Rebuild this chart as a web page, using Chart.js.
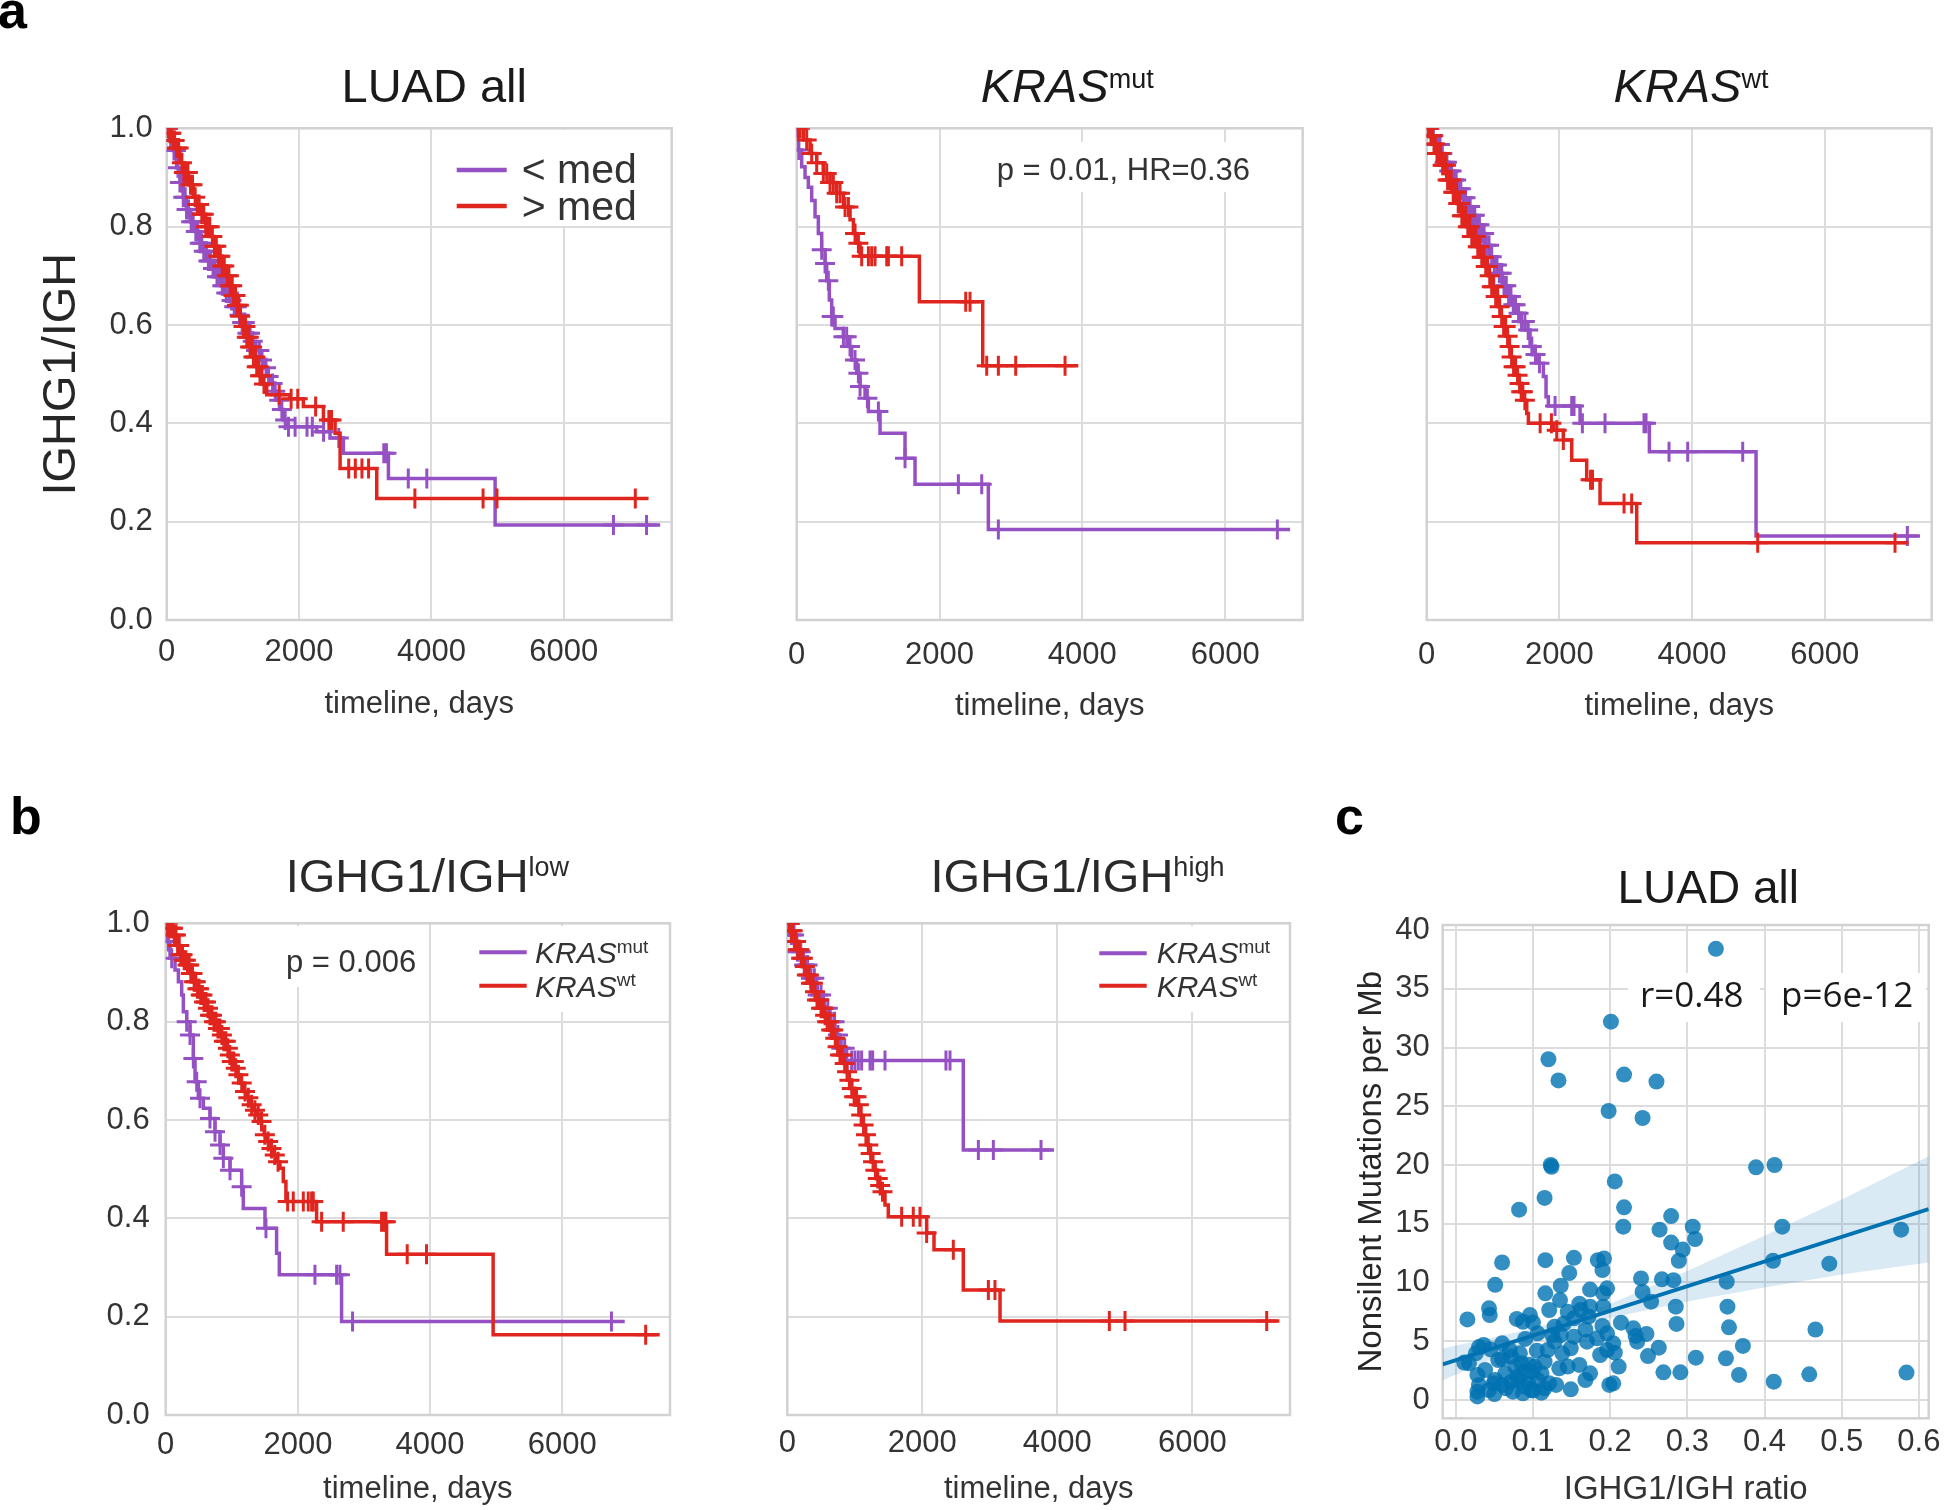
<!DOCTYPE html>
<html><head><meta charset="utf-8">
<script src="https://cdn.jsdelivr.net/npm/chart.js@4.4.1/dist/chart.umd.min.js"></script>
<style>
html,body{margin:0;padding:0;background:#fff;}
#wrap{position:relative;width:1946px;height:1510px;background:#fff;overflow:hidden;}
#wrap canvas{position:absolute;left:0;top:0;}
</style></head><body><div id="wrap">
<canvas id="cA1" width="1946" height="1510"></canvas>
<canvas id="cA2" width="1946" height="1510"></canvas>
<canvas id="cA3" width="1946" height="1510"></canvas>
<canvas id="cB1" width="1946" height="1510"></canvas>
<canvas id="cB2" width="1946" height="1510"></canvas>
<canvas id="cC" width="1946" height="1510"></canvas>
</div>
<script>
// ---------------- DATA ----------------
// Panel a, LUAD all: < med (purple), > med (red). T = event days, S = survival after event, C = censor days
const a1LowT = [0,40,90,150,200,250,300,360,430,500,560,630,690,756,820,880,950,1008,1070,1130,1209,1270,1340,1411,1460,1520,1562,1610,1662,1710,1763,1814,2267,2468,2670,3350,4962,7456];
const a1LowS = [1,.975,.955,.92,.89,.86,.835,.81,.79,.766,.75,.73,.715,.698,.68,.665,.65,.637,.62,.605,.583,.567,.548,.529,.513,.495,.481,.465,.447,.428,.407,.393,.383,.37,.339,.288,.193,.193];
const a1LowC = [20,60,80,110,140,170,200,230,250,280,300,330,370,400,440,470,500,530,560,600,630,660,700,730,760,800,840,870,900,940,980,1020,1060,1100,1140,1180,1220,1260,1300,1350,1400,1440,1500,1540,1600,1640,1700,1740,1790,1840,1940,2120,2200,2370,2600,3280,3320,3650,3930,6750,7250];
const a1HighT = [0,30,80,130,200,260,330,403,460,520,590,655,720,780,840,907,960,1010,1060,1110,1159,1210,1260,1310,1360,1410,1461,1511,1864,2065,2368,2544,2620,3174,7280];
const a1HighS = [1,.99,.975,.96,.93,.91,.885,.86,.845,.825,.80,.78,.76,.74,.72,.70,.68,.66,.64,.618,.597,.575,.555,.535,.515,.497,.48,.458,.45,.434,.407,.38,.308,.247,.247];
const a1HighC = [20,50,70,100,120,150,180,230,260,290,320,360,390,430,460,490,530,560,590,620,650,690,720,750,780,810,840,870,910,940,960,990,1010,1040,1060,1090,1110,1160,1190,1210,1240,1260,1290,1310,1340,1360,1390,1410,1440,1470,1700,1880,1980,2250,2450,2490,2750,2850,2950,3050,3750,4780,4990,7080];
// Panel a, KRAS mut
const a2LowT = [0,23,70,117,163,210,257,303,350,397,420,457,490,537,654,724,770,840,887,957,1004,1167,1517,1657,2684,6909];
const a2LowS = [1,.956,.922,.90,.88,.853,.82,.786,.753,.725,.69,.651,.617,.593,.576,.556,.529,.502,.475,.451,.424,.38,.329,.276,.184,.184];
const a2LowC = [10,30,350,397,443,490,513,654,700,747,817,864,887,990,1144,1517,2264,2591,2824,6731];
const a2HighT = [0,93,187,280,373,467,560,654,747,794,840,887,1718,2605,3944];
const a2HighS = [1,.976,.949,.93,.908,.89,.868,.84,.814,.786,.766,.74,.647,.517,.517];
const a2HighC = [20,47,140,210,280,373,420,467,513,560,607,677,724,817,864,910,1004,1050,1097,1261,1284,1470,2367,2427,2661,2824,3067,3758];
// Panel a, KRAS wt
const a3LowT = [0,60,130,201,270,335,402,470,540,603,670,740,804,880,955,1020,1080,1140,1206,1280,1357,1420,1482,1558,1620,1683,1759,1799,1834,2312,3357,4965,7437];
const a3LowS = [1,.985,.967,.949,.931,.913,.895,.877,.859,.841,.823,.804,.786,.762,.739,.722,.705,.68,.658,.641,.624,.607,.59,.556,.54,.522,.495,.454,.435,.40,.342,.171,.171];
const a3LowC = [30,70,100,130,165,200,235,270,305,340,375,410,445,480,515,550,585,620,655,690,725,760,795,830,865,900,940,980,1020,1060,1095,1130,1165,1200,1235,1270,1305,1340,1385,1430,1480,1530,1585,1640,1700,1935,2186,2221,2347,2688,3276,3307,3653,3935,4764,7246];
const a3HighT = [0,50,100,151,220,302,380,452,530,603,680,754,820,879,930,980,1030,1080,1120,1156,1195,1231,1270,1307,1345,1382,1420,1457,1508,1533,1910,2060,2186,2412,2613,3166,7261];
const a3HighS = [1,.985,.968,.949,.925,.895,.87,.847,.822,.80,.78,.759,.738,.719,.70,.678,.658,.637,.617,.597,.577,.556,.535,.515,.498,.481,.464,.447,.42,.40,.386,.366,.325,.285,.237,.157,.157];
const a3HighC = [20,40,65,90,110,130,155,180,210,240,265,290,315,340,370,400,425,450,475,500,530,560,590,620,650,680,710,740,770,800,830,860,890,920,950,980,1010,1040,1070,1100,1130,1160,1190,1220,1250,1280,1310,1340,1370,1400,1425,1450,1480,1710,1880,1960,2060,2470,2500,2975,3090,4990,7060];
// Panel b, IGHG1/IGH low: KRAS mut (purple), KRAS wt (red)
const b1MutT = [0,10,66,141,192,242,267,318,368,418,444,494,570,670,746,822,872,973,1149,1174,1502,1678,1719,2661,6945];
const b1MutS = [1,.963,.929,.905,.881,.854,.82,.80,.773,.725,.678,.644,.624,.603,.576,.549,.522,.498,.464,.42,.38,.329,.285,.19,.19];
const b1MutC = [40,91,318,368,418,469,519,670,746,822,872,973,1149,1517,2258,2586,2636,2827,6744];
const b1WtT = [0,60,116,165,217,268,318,368,418,470,519,570,620,670,721,770,822,870,922,960,998,1035,1074,1125,1174,1225,1275,1325,1376,1415,1452,1490,1527,1578,1628,1680,1729,1779,1819,2283,3342,4954,7474];
const b1WtS = [1,.99,.976,.955,.936,.925,.915,.898,.881,.867,.854,.84,.827,.813,.80,.786,.773,.76,.746,.732,.719,.705,.692,.675,.658,.645,.631,.62,.61,.597,.583,.57,.556,.542,.529,.515,.502,.475,.434,.393,.327,.163,.163];
const b1WtC = [30,60,90,110,130,155,180,205,230,255,280,305,330,355,380,405,430,455,480,505,530,555,580,610,640,670,700,730,760,790,820,850,880,910,940,970,1000,1030,1060,1100,1150,1200,1250,1300,1350,1400,1450,1500,1550,1600,1650,1700,1845,1930,2082,2157,2208,2233,2359,2686,3266,3301,3331,3654,3946,7262];
// Panel b, IGHG1/IGH high
const b2MutT = [0,40,138,237,336,435,533,632,706,780,879,2607,3950];
const b2MutS = [1,.976,.942,.915,.888,.854,.827,.80,.773,.746,.721,.539,.539];
const b2MutC = [30,60,100,150,200,250,300,350,400,450,500,550,600,650,700,750,800,850,953,1002,1052,1101,1225,1264,1447,2350,2410,2830,3052,3758];
const b2WtT = [0,45,89,140,188,237,286,335,385,435,484,533,583,632,681,730,780,830,879,916,953,990,1027,1064,1101,1138,1175,1212,1249,1286,1323,1360,1397,1447,1496,2064,2173,2607,3151,7289];
const b2WtS = [1,.985,.963,.946,.929,.912,.895,.878,.861,.844,.827,.813,.80,.783,.766,.749,.732,.715,.698,.681,.664,.647,.631,.61,.59,.57,.549,.532,.515,.498,.481,.467,.454,.427,.403,.37,.336,.254,.191,.191];
const b2WtC = [20,40,60,80,105,130,155,180,205,230,260,290,320,350,380,410,440,470,500,530,560,590,620,650,680,710,745,780,815,850,885,920,955,990,1025,1060,1095,1130,1165,1200,1235,1270,1305,1340,1375,1410,1694,1866,1965,2064,2459,2978,3076,4770,5002,7101];
// Panel c: IGHG1/IGH ratio vs nonsilent mutations per Mb
const scX = [0.337,0.201,0.120,0.133,0.218,0.260,0.198,0.242,0.123,0.124,0.389,0.413,0.206,0.115,0.082,0.218,0.217,0.279,0.264,0.307,0.310,0.279,0.423,0.577,0.294,0.289,0.411,0.484,0.060,0.116,0.153,0.184,0.192,0.190,0.147,0.051,0.240,0.267,0.282,0.351,0.136,0.174,0.196,0.116,0.242,0.135,0.253,0.285,0.352,0.043,0.044,0.015,0.121,0.145,0.162,0.191,0.174,0.079,0.087,0.096,0.286,0.354,0.466,0.214,0.190,0.168,0.128,0.106,0.036,0.060,0.026,0.011,0.233,0.247,0.235,0.372,0.263,0.311,0.350,0.249,0.211,0.269,0.291,0.367,0.412,0.458,0.584,0.199,0.204,0.149,0.028,0.030,0.028,0.049,0.074,0.087,0.111,0.121,0.130,0.168,0.174,0.160,0.187,0.196,0.206,0.138,0.145,0.134,0.115,0.102,0.089,0.077,0.064,0.051,0.038,0.060,0.094,0.106,0.083,0.072,0.055,0.119,0.128,0.149,0.136,0.153,0.170,0.183,0.196,0.204,0.070,0.085,0.098,0.111,0.072,0.043,0.017,0.153,0.172,0.230,0.160,0.191,0.089,0.098,0.081,0.028,0.050,0.065,0.080,0.095,0.100,0.105,0.115,0.060,0.045,0.030,0.090,0.100,0.125,0.140];
const scY = [38.4,32.2,29.0,27.2,27.7,27.1,24.6,24.0,20.0,19.85,19.8,20.0,18.6,17.2,16.2,16.4,14.75,15.65,14.5,14.75,13.7,13.4,14.75,14.5,12.8,11.85,11.85,11.6,11.7,11.9,12.1,11.9,12.05,11.06,10.8,9.8,10.35,10.27,10.2,10.07,9.73,9.4,9.5,9.08,9.2,8.5,8.37,7.94,7.94,7.8,7.23,6.86,7.66,7.5,7.66,7.94,7.94,6.9,6.66,7.23,6.47,6.18,6.0,6.58,6.3,6.0,6.24,5.67,4.68,4.82,3.97,3.18,5.45,5.62,4.96,4.6,4.45,3.6,3.55,3.74,2.84,2.35,2.35,2.13,1.56,2.18,2.33,1.28,1.42,0.91,0.71,1.28,2.13,1.42,0.71,0.57,0.62,1.42,1.28,1.7,2.27,2.98,3.83,4.25,4.03,3.97,2.84,2.69,3.26,2.84,2.41,2.84,2.27,1.7,2.55,1.28,1.42,1.7,3.97,3.69,3.4,4.25,4.96,4.4,5.53,5.39,4.96,5.25,5.67,4.82,4.25,3.12,2.41,2.27,1.56,0.85,3.12,6.95,7.09,6.1,8.2,9.08,1.13,0.85,1.7,0.3,0.5,1.0,2.0,3.0,0.8,4.2,1.0,3.5,4.3,4.5,5.2,6.6,5.5,6.5];
const fitX = [-0.017, 0.6128];
const fitY = [3.03, 16.25];
const ciX = [-0.017, 0.05, 0.1, 0.15, 0.2, 0.3, 0.4, 0.5, 0.6128];
const ciLow = [1.68, 3.54, 4.89, 6.04, 6.98, 8.38, 9.58, 10.67, 11.7];
const ciHigh = [4.38, 5.34, 6.09, 7.04, 8.18, 10.98, 13.98, 17.07, 20.75];
// tick sets
const kmXTicks = [0, 2000, 4000, 6000];
const kmYTicks = [0, 0.2, 0.4, 0.6, 0.8, 1.0];
const cXTicks = [0, 0.1, 0.2, 0.3, 0.4, 0.5, 0.6];
const cYTicks = [0, 5, 10, 15, 20, 25, 30, 35, 40];

// ---------------- STYLE ----------------
const FONT = "'Liberation Sans', Arial, Helvetica, sans-serif";
const PURPLE = '#9551c3', RED = '#e0251f', GRID = '#dcdcdc', FRAME = '#d2d2d2', TXT = '#333333';
const BLUE = '#0072b2';

function stepAt(T, S, t) { let v = S[0]; for (let i = 0; i < T.length; i++) { if (T[i] <= t) v = S[i]; else break; } return v; }
function kmSets(T, S, C, color) {
  return [
    { data: C.map(t => ({ x: t, y: stepAt(T, S, t) })), showLine: false, pointStyle: 'cross',
      pointRadius: 10, pointBorderWidth: 3, borderColor: color, backgroundColor: color, pointHoverRadius: 10 },
    { data: T.map((t, i) => ({ x: t, y: S[i] })), stepped: true, borderColor: color, borderWidth: 3.5,
      pointRadius: 0, fill: false }
  ];
}
function fnt(it) {
  return `${it.style || 'normal'} ${it.weight || 'normal'} ${it.size}px ${it.family || FONT}`;
}
let decorN = 0;
function makeDecor(cfg) {
  decorN++;
  return {
    id: 'decor' + decorN,
    beforeDatasetsDraw(chart) {
      const ctx = chart.ctx; ctx.save();
      (cfg.boxes || []).forEach(b => { ctx.fillStyle = '#fff'; ctx.fillRect(b[0], b[1], b[2], b[3]); });
      const a = chart.chartArea;
      ctx.strokeStyle = FRAME; ctx.lineWidth = 2.5;
      ctx.strokeRect(a.left, a.top, a.right - a.left, a.bottom - a.top);
      ctx.restore();
    },
    afterDatasetsDraw(chart) {
      const ctx = chart.ctx; ctx.save();
      (cfg.lines || []).forEach(l => {
        ctx.strokeStyle = l[4]; ctx.lineWidth = l[5]; ctx.lineCap = 'butt';
        ctx.beginPath(); ctx.moveTo(l[0], l[1]); ctx.lineTo(l[2], l[3]); ctx.stroke();
      });
      (cfg.texts || []).forEach(it => {
        ctx.font = fnt(it); ctx.fillStyle = it.color || TXT;
        ctx.textAlign = 'left'; ctx.textBaseline = 'alphabetic';
        ctx.fillText(it.t, it.x, it.y);
        if (it.sup) {
          const w = ctx.measureText(it.t).width;
          ctx.font = fnt({ size: it.sup.size });
          ctx.fillText(it.sup.t, it.x + w + (it.sup.dx || 0), it.y - it.sup.dy);
        }
      });
      ctx.restore();
    }
  };
}
function makeOpts(c) {
  return {
    responsive: false, maintainAspectRatio: false, animation: false, events: [],
    layout: { padding: { left: c.L - c.yW, top: c.T, right: 1946 - c.R, bottom: 1510 - c.B - c.xH } },
    plugins: { legend: { display: false }, tooltip: { enabled: false }, title: { display: false } },
    scales: {
      x: {
        type: 'linear', position: 'bottom', min: c.xmin, max: c.xmax,
        afterFit(s) { s.height = c.xH; },
        afterBuildTicks(s) { s.ticks = c.xTicks.map(v => ({ value: v })); },
        grid: { color: GRID, lineWidth: 2, drawTicks: false },
        border: { display: false },
        ticks: { autoSkip: false, maxRotation: 0, minRotation: 0,
          padding: c.xPad, color: TXT, font: { family: FONT, size: 31 }, callback: c.xfmt },
        title: { display: true, text: c.xTitle, color: TXT, font: { family: FONT, size: c.xTitleSize }, padding: 0 }
      },
      y: {
        type: 'linear', position: 'left', min: c.ymin, max: c.ymax,
        afterFit(s) { s.width = c.yW; },
        afterBuildTicks(s) { s.ticks = c.yTicks.map(v => ({ value: v })); },
        grid: { color: GRID, lineWidth: 2, drawTicks: false },
        border: { display: false },
        ticks: { display: c.yLabels, autoSkip: false,
          padding: c.yPad, color: TXT, font: { family: FONT, size: 31 }, callback: c.yfmt },
        title: { display: !!c.yTitle, text: c.yTitle || '', color: '#262626', font: { family: FONT, size: c.yTitleSize || 31 }, padding: 0 }
      }
    }
  };
}
const kmFmtX = v => String(Math.round(v));
const kmFmtY = v => v.toFixed(1);

function kmChart(id, geo, series, decor) {
  const ds = [];
  series.forEach(s => ds.push(...kmSets(s[0], s[1], s[2], s[3])));
  const c = Object.assign({ ymin: 0, ymax: 1, xmin: 0, xTicks: kmXTicks, yTicks: kmYTicks, xfmt: kmFmtX, yfmt: kmFmtY,
    xTitle: 'timeline, days', xTitleSize: 31 }, geo);
  new Chart(document.getElementById(id), { type: 'line', data: { datasets: ds }, options: makeOpts(c), plugins: [makeDecor(decor)] });
}

// ---------- panel a1 ----------
kmChart('cA1',
  { L: 166.7, T: 128.3, R: 671.7, B: 620, xmax: 7630, yW: 132.4, xH: 102.9, xPad: 13.4, yPad: 14, yLabels: true,
    yTitle: 'IGHG1/IGH', yTitleSize: 47 },
  [[a1HighT, a1HighS, a1HighC, RED], [a1LowT, a1LowS, a1LowC, PURPLE]],
  { boxes: [[442, 130, 210, 96]],
    lines: [[456.7, 170, 506.7, 170, PURPLE, 4.5], [456.7, 206, 506.7, 206, RED, 4.5]],
    texts: [
      { t: 'a', x: -2, y: 28, size: 52, weight: 'bold', color: '#000' },
      { t: 'LUAD all', x: 341.5, y: 101.5, size: 47, color: '#1a1a1a' },
      { t: '< med', x: 521.7, y: 183.3, size: 41 },
      { t: '> med', x: 521.7, y: 220, size: 41 }
    ] });
// ---------- panel a2 ----------
kmChart('cA2',
  { L: 796.7, T: 128.3, R: 1302.7, B: 620, xmax: 7086, yW: 30, xH: 104.9, xPad: 16.4, yPad: 14, yLabels: false },
  [[a2HighT, a2HighS, a2HighC, RED], [a2LowT, a2LowS, a2LowC, PURPLE]],
  { boxes: [[985, 142, 280, 50]],
    texts: [
      { t: 'KRAS', x: 980.7, y: 101.5, size: 47, style: 'italic', color: '#1a1a1a', sup: { t: 'mut', size: 27, dy: 14 } },
      { t: 'p = 0.01, HR=0.36', x: 996.7, y: 180, size: 31 }
    ] });
// ---------- panel a3 ----------
kmChart('cA3',
  { L: 1426.7, T: 128.3, R: 1931.7, B: 620, xmax: 7613, yW: 30, xH: 104.9, xPad: 16.4, yPad: 14, yLabels: false },
  [[a3HighT, a3HighS, a3HighC, RED], [a3LowT, a3LowS, a3LowC, PURPLE]],
  { texts: [
      { t: 'KRAS', x: 1613.4, y: 101.5, size: 47, style: 'italic', color: '#1a1a1a', sup: { t: 'wt', size: 27, dy: 14 } }
    ] });
// ---------- panel b1 ----------
kmChart('cB1',
  { L: 165.7, T: 923.3, R: 670, B: 1415, xmax: 7630, yW: 120, xH: 93.4, xPad: 12.2, yPad: 16, yLabels: true },
  [[b1WtT, b1WtS, b1WtC, RED], [b1MutT, b1MutS, b1MutC, PURPLE]],
  { boxes: [[276, 926, 152, 61], [470, 926, 192, 86]],
    lines: [[479.3, 952.3, 526.7, 952.3, PURPLE, 4], [479.3, 985.7, 526.7, 985.7, RED, 4]],
    texts: [
      { t: 'b', x: 10, y: 833.5, size: 52, weight: 'bold', color: '#000' },
      { t: 'IGHG1/IGH', x: 285.7, y: 891.7, size: 47, color: '#2a2a2a', sup: { t: 'low', size: 27, dy: 16 } },
      { t: 'p = 0.006', x: 286, y: 971.7, size: 31 },
      { t: 'KRAS', x: 535, y: 963.3, size: 30, style: 'italic', sup: { t: 'mut', size: 19, dy: 10.5 } },
      { t: 'KRAS', x: 535, y: 996.7, size: 30, style: 'italic', sup: { t: 'wt', size: 19, dy: 10.5 } }
    ] });
// ---------- panel b2 ----------
kmChart('cB2',
  { L: 787.3, T: 923.3, R: 1290, B: 1415, xmax: 7446, yW: 30, xH: 93.4, xPad: 9.8, yPad: 14, yLabels: false },
  [[b2WtT, b2WtS, b2WtC, RED], [b2MutT, b2MutS, b2MutC, PURPLE]],
  { boxes: [[1090, 926, 195, 86]],
    lines: [[1099.3, 953.3, 1146.7, 953.3, PURPLE, 4], [1099.3, 985.7, 1146.7, 985.7, RED, 4]],
    texts: [
      { t: 'IGHG1/IGH', x: 930.5, y: 891.7, size: 47, color: '#2a2a2a', sup: { t: 'high', size: 27, dy: 16 } },
      { t: 'KRAS', x: 1156.7, y: 963.3, size: 30, style: 'italic', sup: { t: 'mut', size: 19, dy: 10.5 } },
      { t: 'KRAS', x: 1156.7, y: 996.7, size: 30, style: 'italic', sup: { t: 'wt', size: 19, dy: 10.5 } }
    ] });
// ---------- panel c ----------
(function () {
  const c = { L: 1442.7, T: 925, R: 1936, B: 1418.3, xmin: -0.017, xmax: 0.6128, ymin: -1.56, ymax: 40.43,
    xTicks: cXTicks, yTicks: cYTicks,
    yW: 90.5, xH: 91.7, xPad: 5.4, yPad: 13, yLabels: true,
    xfmt: v => v.toFixed(1), yfmt: v => String(Math.round(v)),
    xTitle: 'IGHG1/IGH ratio', xTitleSize: 33, yTitle: 'Nonsilent Mutations per Mb', yTitleSize: 33 };
  const datasets = [
    { data: fitX.map((x, i) => ({ x: x, y: fitY[i] })), borderColor: BLUE, borderWidth: 4, pointRadius: 0, fill: false },
    { data: ciX.map((x, i) => ({ x: x, y: ciHigh[i] })), borderWidth: 0, borderColor: 'rgba(0,0,0,0)', pointRadius: 0,
      fill: { target: '+1' }, backgroundColor: 'rgba(0,114,178,0.15)' },
    { data: ciX.map((x, i) => ({ x: x, y: ciLow[i] })), borderWidth: 0, borderColor: 'rgba(0,0,0,0)', pointRadius: 0, fill: false },
    { data: scX.map((x, i) => ({ x: x, y: scY[i] })), showLine: false, pointRadius: 8, pointBorderWidth: 0,
      pointBackgroundColor: 'rgba(0,114,178,0.8)', borderColor: 'rgba(0,114,178,0.8)' }
  ];
  new Chart(document.getElementById('cC'), { type: 'line', data: { datasets }, options: makeOpts(c),
    plugins: [makeDecor({
      boxes: [[1628, 973, 132, 49], [1766, 973, 160, 49]],
      texts: [
        { t: 'c', x: 1335, y: 833.5, size: 52, weight: 'bold', color: '#000' },
        { t: 'LUAD all', x: 1617.4, y: 903.4, size: 46, color: '#1a1a1a' },
        { t: 'r=0.48', x: 1640, y: 1007.3, size: 35, family: "'Open Sans', sans-serif", color: '#1a1a1a' },
        { t: 'p=6e-12', x: 1781, y: 1007.3, size: 35, family: "'Open Sans', sans-serif", color: '#1a1a1a' }
      ] })] });
})();
</script>
</body></html>
